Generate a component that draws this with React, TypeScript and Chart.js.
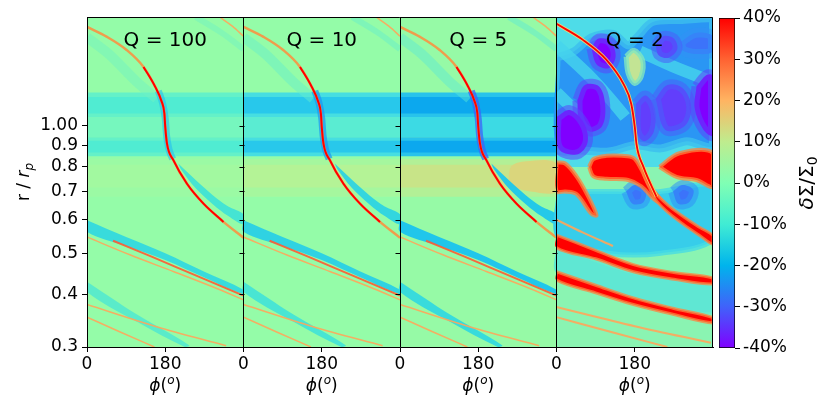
import { useEffect, useRef } from 'react';
import { Chart, registerables } from 'chart.js';

Chart.register(...registerables);

type Pt = [number, number]; // [phi in degrees, r / r_p]

// axes
const qValues = [100, 10, 5, 2];
const phiTicks = [0, 180];
const phiTickLabels = ['0', '180'];
const rTicks = [0.3, 0.4, 0.5, 0.6, 0.7, 0.8, 0.9, 1.0];
const rTickLabels = ['0.3', '0.4', '0.5', '0.6', '0.7', '0.8', '0.9', '1.00'];
const rRange: Pt = [0.3, 1.81];
const cbTicks = [-40, -30, -20, -10, 0, 10, 20, 30, 40];
const cbRange = [-40, 40];

// Q = 100, 10, 5: density gap around the orbit (r ranges)
const gapOuter: Pt = [1.07, 1.17];
const gapOuterHalo: Pt = [1.05, 1.2];
const gapInner: Pt = [0.865, 0.922];
const gapInnerHalo: Pt = [0.848, 0.94];
const gapBetween: Pt = [0.94, 1.05];
const warmZone: Pt = [0.715, 0.81];
const warmHalo: Pt = [0.68, 0.835];
const warmRight: Pt[] = [[250, 0.72], [300, 0.7], [360, 0.7], [360, 0.815], [290, 0.825], [255, 0.8], [250, 0.72]];

// Q = 100, 10, 5: spiral wakes
const mainArm: Pt[] = [
  [0, 1.715], [46, 1.624], [92, 1.51], [130, 1.379], [157, 1.237], [172, 1.14], [178, 1.07],
  [180, 0.995], [184, 0.908], [199, 0.829], [230, 0.73], [268, 0.655], [314, 0.593], [360, 0.544],
];
const kinkShadow: Pt[] = [[164, 1.21], [174, 1.13], [180, 1.04], [183, 0.95], [188, 0.885], [197, 0.835]];
const armShadow: Pt[] = [
  [210, 0.815], [250, 0.745], [290, 0.685], [325, 0.645], [360, 0.618],
  [360, 0.585], [325, 0.612], [290, 0.652], [250, 0.712], [216, 0.79], [210, 0.815],
];
const upperFaint: Pt[] = [[0, 1.62], [50, 1.48], [115, 1.27], [160, 1.16]];
const outerCyan: Pt[] = [[250, 1.81], [310, 1.66], [360, 1.52]];
const outerOrange: Pt[] = [[305, 1.81], [335, 1.72], [360, 1.63]];
const arm2Blue: Pt[] = [
  [0, 0.598], [90, 0.546], [180, 0.5], [270, 0.452], [360, 0.41],
  [360, 0.4], [270, 0.438], [180, 0.482], [90, 0.52], [0, 0.562], [0, 0.598],
];
const arm2Red: Pt[] = [[60, 0.535], [150, 0.49], [250, 0.443], [360, 0.397]];
const arm2Orange: Pt[] = [[0, 0.546], [100, 0.495], [200, 0.452], [300, 0.412], [360, 0.388]];
const lowBlue: Pt[] = [[0, 0.428], [115, 0.358], [235, 0.303], [225, 0.3], [115, 0.344], [0, 0.405], [0, 0.428]];
const lowOrange1: Pt[] = [[0, 0.378], [160, 0.335], [320, 0.302]];
const lowOrange2: Pt[] = [[0, 0.353], [75, 0.326], [155, 0.3]];

// Q = 2: unstable disc
const q2Cyan: Pt = [0.8, 1.81];
const q2BlueZone: Pt[] = [
  [0, 1.45], [40, 1.5], [80, 1.62], [130, 1.65], [165, 1.55], [185, 1.62], [220, 1.76], [280, 1.78], [360, 1.78],
  [360, 0.9], [300, 0.92], [240, 0.885], [180, 0.9], [120, 0.87], [60, 0.875], [0, 0.885], [0, 1.45],
];
const q2Purple: Pt[][] = [
  [[80, 1.53], [97, 1.61], [125, 1.58], [136, 1.46], [120, 1.37], [92, 1.4], [80, 1.53]],
  [[48, 1.15], [65, 1.25], [98, 1.24], [112, 1.12], [105, 1.0], [76, 0.97], [52, 1.04], [48, 1.15]],
  [[0, 1.05], [30, 1.09], [62, 1.02], [72, 0.92], [52, 0.86], [15, 0.865], [0, 0.91], [0, 1.05]],
  [[322, 1.24], [345, 1.32], [360, 1.31], [360, 0.95], [338, 0.98], [318, 1.1], [322, 1.24]],
];
const q2Violet: Pt[][] = [
  [[228, 1.55], [245, 1.63], [270, 1.61], [278, 1.52], [258, 1.45], [235, 1.47], [228, 1.55]],
  [[183, 1.13], [205, 1.18], [226, 1.1], [224, 0.97], [202, 0.92], [184, 0.97], [183, 1.13]],
  [[228, 1.16], [255, 1.25], [290, 1.23], [310, 1.11], [295, 1.0], [250, 0.98], [228, 1.16]],
];
const q2BlueBlobs: Pt[][] = [
  [[285, 1.58], [320, 1.66], [360, 1.63], [360, 1.5], [322, 1.48], [290, 1.51], [285, 1.58]],
  [[160, 0.7], [180, 0.725], [205, 0.705], [200, 0.66], [175, 0.655], [160, 0.7]],
  [[268, 0.7], [290, 0.725], [315, 0.705], [305, 0.66], [280, 0.655], [268, 0.7]],
];
const q2Yellow: Pt[] = [[160, 1.46], [178, 1.51], [198, 1.43], [195, 1.31], [180, 1.26], [165, 1.33], [160, 1.46]];
const q2Streaks: Pt[][] = [
  [[0, 1.55], [70, 1.33], [120, 1.17], [158, 1.05]],
  [[192, 1.5], [270, 1.38], [360, 1.27]],
  [[0, 1.2], [30, 1.12], [60, 1.06]],
];
const q2RedBlobs: Pt[][] = [
  [[75, 0.8], [85, 0.835], [115, 0.85], [150, 0.85], [177, 0.84], [195, 0.79], [215, 0.72], [246, 0.654], [225, 0.67], [195, 0.72], [165, 0.745], [115, 0.75], [85, 0.76], [75, 0.8]],
  [[237, 0.8], [283, 0.862], [360, 0.862], [360, 0.72], [322, 0.745], [276, 0.758], [237, 0.8]],
  [[0, 0.82], [20, 0.815], [46, 0.76], [70, 0.69], [92, 0.615], [80, 0.62], [46, 0.69], [20, 0.7], [0, 0.7], [0, 0.82]],
];
const q2MidCyan: Pt[] = [[0, 0.7], [120, 0.7], [240, 0.7], [360, 0.72], [360, 0.54], [240, 0.5], [120, 0.5], [0, 0.545], [0, 0.7]];
const q2LowCyan: Pt[] = [[0, 0.52], [180, 0.45], [360, 0.42], [360, 0.36], [180, 0.39], [0, 0.45], [0, 0.52]];
const q2Arm: Pt[] = [[0, 1.744], [60, 1.6], [115, 1.433], [154, 1.257], [172, 1.127], [180, 0.995], [184, 0.906], [200, 0.8], [230, 0.68]];
const q2ArmD: Pt[] = [
  [186, 0.87], [200, 0.79], [215, 0.735], [230, 0.69], [260, 0.645], [292, 0.61], [330, 0.575], [360, 0.55],
  [360, 0.525], [330, 0.55], [292, 0.585], [260, 0.62], [230, 0.665], [215, 0.71], [200, 0.77], [190, 0.85], [186, 0.87],
];
const q2ArmE: Pt[] = [
  [0, 0.552], [90, 0.508], [177, 0.47], [270, 0.45], [360, 0.437],
  [360, 0.423], [270, 0.434], [177, 0.452], [90, 0.485], [0, 0.515], [0, 0.552],
];
const q2ArmF: Pt[] = [
  [0, 0.452], [90, 0.42], [177, 0.392], [270, 0.37], [360, 0.352],
  [360, 0.342], [270, 0.358], [177, 0.378], [90, 0.403], [0, 0.432], [0, 0.452],
];
const q2Thin: Pt[][] = [
  [[0, 0.373], [180, 0.336], [355, 0.307]],
  [[0, 0.353], [128, 0.325], [255, 0.3]],
  [[0, 0.6], [60, 0.56], [130, 0.52]],
];

const FONT = '"DejaVu Sans", Verdana, sans-serif';
const PANEL_PX = 156.5;

const discStyle = [
  { base: 'rgb(148,252,168)', warm: 'rgb(162,249,160)', warmHalo: 'rgb(155,250,164)', gap: 'rgb(118,247,190)', halo: 'rgb(100,241,200)', band: 'rgb(80,236,210)', kink: 'rgba(40,190,238,0.6)', shadow: 'rgba(60,225,215,0.9)', faint: 'rgba(110,242,196,0.45)', low: 'rgba(80,232,208,0.85)', arm2: 'rgba(45,215,225,0.9)' },
  { base: 'rgb(148,252,168)', warm: 'rgb(180,243,150)', warmHalo: 'rgb(165,247,158)', gap: 'rgb(90,236,210)', halo: 'rgb(70,222,225)', band: 'rgb(40,200,235)', kink: 'rgba(30,150,242,0.7)', shadow: 'rgba(40,210,228,0.9)', faint: 'rgba(100,238,205,0.45)', low: 'rgba(60,225,218,0.85)', arm2: 'rgba(35,205,232,0.9)' },
  { base: 'rgb(150,250,166)', warm: 'rgb(200,228,136)', warmHalo: 'rgb(178,240,150)', gap: 'rgb(60,218,228)', halo: 'rgb(40,195,235)', band: 'rgb(12,168,238)', kink: 'rgba(60,100,248,0.75)', shadow: 'rgba(30,198,235,0.95)', faint: 'rgba(90,232,212,0.45)', low: 'rgba(45,215,226,0.9)', arm2: 'rgba(25,195,238,0.95)' },
];
const orangeLine = 'rgba(255,165,90,0.9)';
const armRed = 'rgb(255,0,0)';
const armHalo = 'rgba(255,140,60,0.85)';

const cmapStops: [number, string][] = [
  [0, 'rgb(128,0,255)'], [0.125, 'rgb(64,98,250)'], [0.25, 'rgb(0,180,236)'], [0.375, 'rgb(64,236,212)'],
  [0.5, 'rgb(128,255,180)'], [0.625, 'rgb(191,236,142)'], [0.75, 'rgb(255,180,98)'], [0.875, 'rgb(255,98,50)'], [1, 'rgb(255,0,0)'],
];

function buildLayers() {
  const layers: any[] = [];
  const put = (k: number, pts: Pt[], style: any) =>
    layers.push({
      data: pts.map(([p, r]) => ({ x: p + 360 * k, y: r })),
      showLine: true,
      pointRadius: 0,
      clip: { left: -k * PANEL_PX, right: -(3 - k) * PANEL_PX, top: 0, bottom: 0 },
      ...style,
    });
  const area = (k: number, pts: Pt[], color: string, edge = 'transparent', edgeW = 0, tension = 0.35) =>
    put(k, pts, { fill: 'shape', backgroundColor: color, borderColor: edge, borderWidth: edgeW, tension, borderJoinStyle: 'round' });
  const band = (k: number, [lo, hi]: Pt, color: string) =>
    area(k, [[0, lo], [360, lo], [360, hi], [0, hi], [0, lo]], color, 'transparent', 0, 0);
  const stroke = (k: number, pts: Pt[], color: string, width: number) =>
    put(k, pts, { fill: false, borderColor: color, borderWidth: width, cubicInterpolationMode: 'monotone', borderCapStyle: 'butt' });

  discStyle.forEach((s, k) => {
    band(k, rRange, s.base);
    band(k, warmHalo, s.warmHalo);
    band(k, warmZone, s.warm);
    if (k === 2) area(k, warmRight, 'rgb(218,214,124)');
    band(k, gapBetween, s.gap);
    band(k, gapOuterHalo, s.halo);
    band(k, gapInnerHalo, s.halo);
    band(k, gapOuter, s.band);
    band(k, gapInner, s.band);
    stroke(k, upperFaint, s.faint, 10);
    stroke(k, outerCyan, s.faint, 6);
    stroke(k, outerOrange, orangeLine, 1.5);
    stroke(k, kinkShadow, s.kink, 7);
    area(k, armShadow, s.shadow);
    area(k, arm2Blue, s.arm2);
    area(k, lowBlue, s.low);
    stroke(k, arm2Orange, orangeLine, 1.5);
    stroke(k, arm2Red, 'rgba(255,90,50,0.9)', 2);
    stroke(k, lowOrange1, orangeLine, 1.5);
    stroke(k, lowOrange2, orangeLine, 1.5);
    stroke(k, mainArm, armHalo, 2.5);
    stroke(k, mainArm.slice(3, 13), armRed, 2);
  });

  const k = 3;
  band(k, rRange, 'rgb(138,244,178)');
  area(k, q2LowCyan, 'rgba(90,230,214,0.9)', 'rgba(110,236,200,0.7)', 4, 0.3);
  area(k, q2MidCyan, 'rgb(55,205,234)', 'rgba(70,220,228,0.8)', 5, 0.3);
  band(k, q2Cyan, 'rgb(78,220,232)');
  area(k, q2BlueZone, 'rgb(42,150,244)', 'rgba(60,190,238,0.8)', 8, 0.3);
  q2Streaks.forEach((p) => stroke(k, p, 'rgba(70,212,236,0.8)', 12));
  area(k, q2Yellow, 'rgb(195,228,148)', 'rgba(130,230,190,0.8)', 5);
  q2BlueBlobs.forEach((p) => area(k, p, 'rgb(60,115,250)', 'rgba(50,145,246,0.55)', 10));
  q2Violet.forEach((p) => area(k, p, 'rgb(98,62,252)', 'rgba(72,95,250,0.55)', 10));
  q2Purple.forEach((p) => area(k, p, 'rgb(128,0,255)', 'rgba(90,70,252,0.55)', 10));
  q2RedBlobs.forEach((p) => area(k, p, armRed, 'rgba(255,130,60,0.75)', 4));
  [q2ArmD, q2ArmE, q2ArmF].forEach((p) => area(k, p, armRed, 'rgba(255,130,60,0.75)', 3));
  q2Thin.forEach((p) => stroke(k, p, orangeLine, 2));
  stroke(k, q2Arm, 'rgba(240,220,110,0.9)', 3.5);
  stroke(k, q2Arm, armRed, 1.8);

  return layers.map((d, i) => ({ ...d, order: layers.length - i }));
}

type Part = [string, string, number];
function drawParts(ctx: CanvasRenderingContext2D, parts: Part[], cx: number, baseline: number) {
  let w = 0;
  parts.forEach(([t, f]) => {
    ctx.font = f;
    w += ctx.measureText(t).width;
  });
  let x = cx - w / 2;
  parts.forEach(([t, f, dy]) => {
    ctx.font = f;
    ctx.fillText(t, x, baseline + dy);
    x += ctx.measureText(t).width;
  });
}

const decor = {
  id: 'decor',
  afterDraw(chart: any) {
    const { ctx, chartArea: a, scales } = chart;
    const x = scales.x;
    const y = scales.y;
    ctx.save();
    ctx.strokeStyle = '#000';
    ctx.lineWidth = 1;
    ctx.beginPath();
    ctx.moveTo(a.left, a.top + 0.5);
    ctx.lineTo(a.right - 0.5, a.top + 0.5);
    ctx.lineTo(a.right - 0.5, a.bottom);
    qValues.forEach((_, k) => {
      if (k === 0) return;
      const px = Math.round(x.getPixelForValue(360 * k)) + 0.5;
      rTicks.forEach((v) => {
        const py = Math.round(y.getPixelForValue(v)) + 0.5;
        ctx.moveTo(px - 5, py);
        ctx.lineTo(px, py);
      });
    });
    ctx.stroke();

    ctx.fillStyle = '#000';
    ctx.textAlign = 'left';
    ctx.textBaseline = 'alphabetic';
    qValues.forEach((q, k) => {
      const cx = x.getPixelForValue(180 + 360 * k);
      drawParts(ctx, [[`Q = ${q}`, `20px ${FONT}`, 0]], cx, a.top + 29);
      drawParts(
        ctx,
        [
          ['ϕ', `italic 17px ${FONT}`, 0],
          ['(', `17px ${FONT}`, 0],
          ['o', `italic 12px ${FONT}`, -7],
          [')', `17px ${FONT}`, 0],
        ],
        cx,
        391,
      );
    });

    ctx.translate(29, (a.top + a.bottom) / 2);
    ctx.rotate(-Math.PI / 2);
    drawParts(
      ctx,
      [
        ['r / ', `17px ${FONT}`, 0],
        ['r', `italic 17px ${FONT}`, 0],
        ['p', `italic 12px ${FONT}`, 4],
      ],
      0,
      0,
    );
    ctx.restore();
  },
};

const cbLabel = {
  id: 'cbLabel',
  afterDraw(chart: any) {
    const { ctx, chartArea: a } = chart;
    ctx.save();
    ctx.fillStyle = '#000';
    ctx.textAlign = 'left';
    ctx.textBaseline = 'alphabetic';
    ctx.translate(99, (a.top + a.bottom) / 2);
    ctx.rotate(-Math.PI / 2);
    drawParts(
      ctx,
      [
        ['δ', `italic 20px ${FONT}`, 0],
        ['Σ/Σ', `20px ${FONT}`, 0],
        ['0', `14px ${FONT}`, 4],
      ],
      0,
      0,
    );
    ctx.restore();
  },
};

export default function App() {
  const mainRef = useRef<HTMLCanvasElement>(null);
  const cbRef = useRef<HTMLCanvasElement>(null);

  useEffect(() => {
    document.body.style.margin = '0';
    if (!mainRef.current || !cbRef.current) return;

    const tickFont = { family: FONT, size: 17 };

    const main = new Chart(mainRef.current, {
      type: 'scatter',
      data: { datasets: buildLayers() },
      options: {
        animation: false,
        responsive: true,
        maintainAspectRatio: false,
        events: [],
        layout: { padding: { left: 0, right: 1, top: 17, bottom: 39 } },
        plugins: { legend: { display: false }, tooltip: { enabled: false } },
        scales: {
          x: {
            type: 'linear',
            min: 0,
            max: 360 * qValues.length,
            afterBuildTicks: (s: any) => {
              s.ticks = qValues.flatMap((_, k) => phiTicks.map((t) => ({ value: t + 360 * k })));
            },
            afterFit: (s: any) => {
              s.height = 25;
            },
            ticks: {
              autoSkip: false,
              maxRotation: 0,
              padding: 2,
              color: '#000',
              font: tickFont,
              callback: (v: any) => phiTickLabels[phiTicks.indexOf(Number(v) % 360)],
            },
            grid: {
              z: 1,
              tickLength: 5,
              tickColor: '#000',
              lineWidth: 1,
              color: (c: any) => (c.tick && c.tick.value % 360 === 0 && c.tick.value > 0 ? '#000' : 'rgba(0,0,0,0)'),
            },
            border: { display: true, color: '#000', width: 1, z: 1 },
          },
          y: {
            type: 'logarithmic',
            min: rRange[0],
            max: rRange[1],
            afterBuildTicks: (s: any) => {
              s.ticks = rTicks.map((v) => ({ value: v }));
            },
            afterFit: (s: any) => {
              s.width = 87;
            },
            ticks: {
              padding: 4,
              color: '#000',
              font: tickFont,
              callback: (v: any) => rTickLabels[rTicks.indexOf(Number(v))],
            },
            grid: { z: 1, drawOnChartArea: false, tickLength: 5, tickColor: '#000' },
            border: { display: true, color: '#000', width: 1, z: 1 },
          },
        },
      } as any,
      plugins: [decor],
    });

    const cb = new Chart(cbRef.current, {
      type: 'bar',
      data: {
        labels: [''],
        datasets: [
          {
            data: [cbRange as any],
            backgroundColor: (c: any) => {
              const a = c.chart.chartArea;
              if (!a) return 'transparent';
              const g = c.chart.ctx.createLinearGradient(0, a.bottom, 0, a.top);
              cmapStops.forEach(([t, col]) => g.addColorStop(t, col));
              return g;
            },
            borderColor: '#000',
            borderWidth: 1,
            borderSkipped: false,
            barPercentage: 1,
            categoryPercentage: 1,
          },
        ],
      },
      options: {
        animation: false,
        responsive: true,
        maintainAspectRatio: false,
        events: [],
        layout: { padding: { left: 5, right: 0, top: 18, bottom: 63 } },
        plugins: { legend: { display: false }, tooltip: { enabled: false } },
        scales: {
          x: { display: false },
          y: {
            position: 'right',
            min: cbRange[0],
            max: cbRange[1],
            afterBuildTicks: (s: any) => {
              s.ticks = cbTicks.map((v) => ({ value: v }));
            },
            afterFit: (s: any) => {
              s.width = 96;
            },
            ticks: { padding: 3, color: '#000', font: tickFont, callback: (v: any) => `${v}%` },
            grid: { drawOnChartArea: false, tickLength: 5, tickColor: '#000' },
            border: { display: false },
          },
        },
      } as any,
      plugins: [cbLabel],
    });

    return () => {
      main.destroy();
      cb.destroy();
    };
  }, []);

  return (
    <div style={{ position: 'relative', width: 831, height: 411, background: '#fff' }}>
      <div style={{ position: 'absolute', left: 0, top: 0, width: 714, height: 411 }}>
        <canvas ref={mainRef} />
      </div>
      <div style={{ position: 'absolute', left: 714, top: 0, width: 117, height: 411 }}>
        <canvas ref={cbRef} />
      </div>
    </div>
  );
}
